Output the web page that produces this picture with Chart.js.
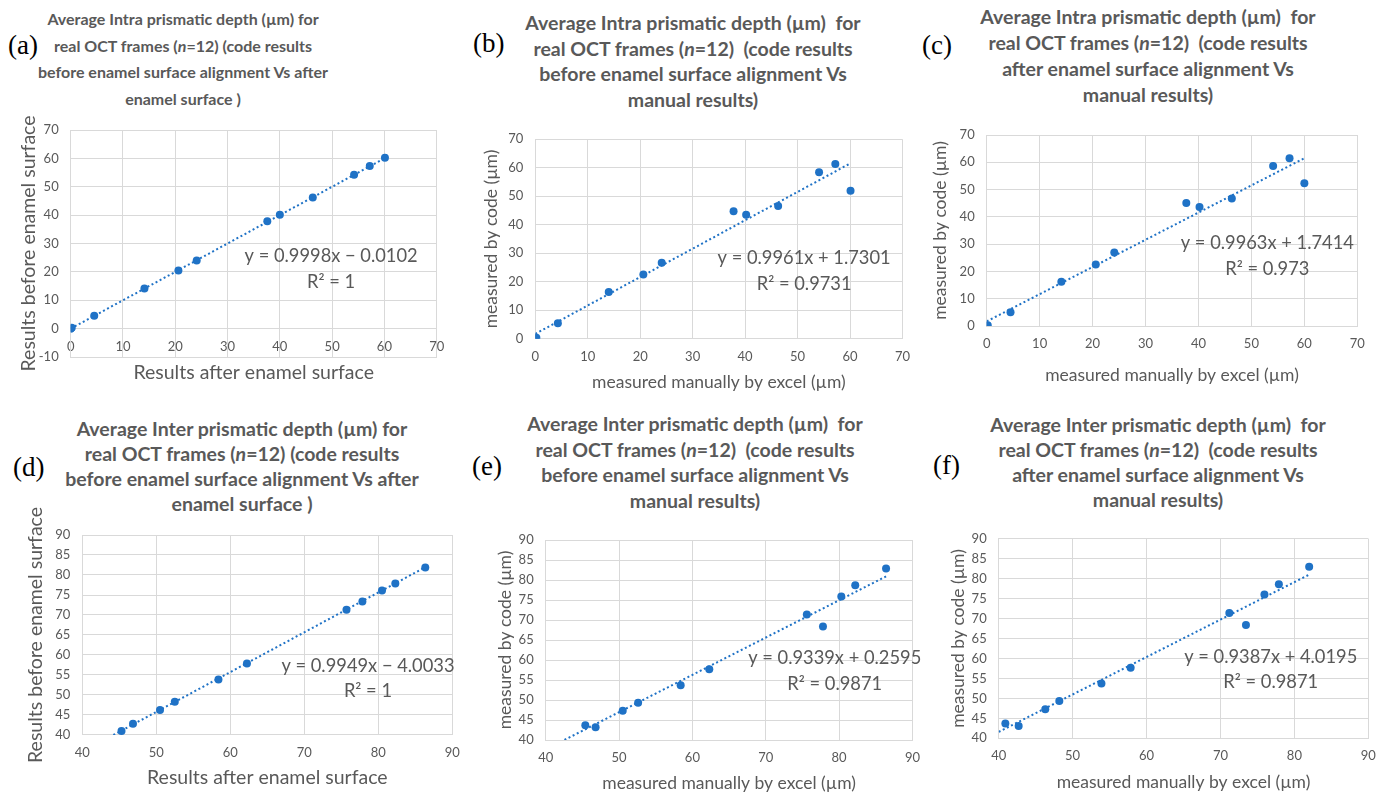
<!DOCTYPE html>
<html lang="en">
<head>
<meta charset="UTF-8">
<title>Average Intra / Inter prismatic depth</title>
<script src="https://cdn.jsdelivr.net/npm/chart.js"></script>
<style>
  html, body { margin: 0; padding: 0; background: #fff; }
  body { position: relative; width: 1386px; height: 794px; overflow: hidden; font-family: Lato, "Open Sans", sans-serif; }
  .panel { position: absolute; }
  .title { position: absolute; width: 440px; text-align: center; font-weight: bold; font-size: 19.5px; color: #595959; white-space: pre; }
  .tag { position: absolute; font-family: "Liberation Serif", "DejaVu Serif", serif; font-size: 27px; line-height: 30px; color: #000; }
</style>
</head>
<body>

<div class="tag" style="left:8px; top:30px">(a)</div>
<div class="tag" style="left:473px; top:28px">(b)</div>
<div class="tag" style="left:922px; top:30px">(c)</div>
<div class="tag" style="left:13px; top:452px">(d)</div>
<div class="tag" style="left:472px; top:451px">(e)</div>
<div class="tag" style="left:933px; top:450px">(f)</div>

<div class="title" style="left:-37px; top:6px; line-height:26.5px; font-size:16px">Average Intra prismatic depth (µm) for
real OCT frames (<i>n</i>=12) (code results
before enamel surface alignment Vs after
enamel surface )</div>
<div class="title" style="left:473px; top:10px; line-height:25.5px">Average Intra prismatic depth (µm)  for
real OCT frames (<i>n</i>=12)  (code results
before enamel surface alignment Vs
manual results)</div>
<div class="title" style="left:928px; top:4px; line-height:26px">Average Intra prismatic depth (µm)  for
real OCT frames (<i>n</i>=12)  (code results
after enamel surface alignment Vs
manual results)</div>
<div class="title" style="left:22px; top:416px; line-height:25px">Average Inter prismatic depth (µm) for
real OCT frames (<i>n</i>=12) (code results
before enamel surface alignment Vs after
enamel surface )</div>
<div class="title" style="left:475px; top:411px; line-height:25.5px">Average Inter prismatic depth (µm)  for
real OCT frames (<i>n</i>=12)  (code results
before enamel surface alignment Vs
manual results)</div>
<div class="title" style="left:938px; top:412px; line-height:25px">Average Inter prismatic depth (µm)  for
real OCT frames (<i>n</i>=12)  (code results
after enamel surface alignment Vs
manual results)</div>

<script>
    // (a) intra, before vs after alignment
    const aX = [0, 0.2, 4.5, 14.1, 20.6, 24.1, 37.6, 40.0, 46.3, 54.2, 57.2, 60.1];
    const aY = [0, 0.3, 4.5, 14.1, 20.5, 24.0, 37.8, 40.1, 46.2, 54.2, 57.3, 60.2];
    const aTrendX = [0, 60.1];
    const aTrendY = [0, 60.1];

    // (b) intra, before alignment vs manual
    const bX = [0, 0.2, 4.3, 14.0, 20.6, 24.1, 37.8, 40.2, 46.3, 54.1, 57.2, 60.1];
    const bY = [0.1, 0.3, 5.4, 16.4, 22.5, 26.7, 44.7, 43.5, 46.6, 58.4, 61.3, 51.9];
    const bTrendX = [0, 59.8];
    const bTrendY = [1.7, 61.3];

    // (c) intra, after alignment vs manual
    const cX = [0, 0.2, 4.5, 14.1, 20.6, 24.1, 37.7, 40.2, 46.3, 54.1, 57.2, 60.0];
    const cY = [0.1, 0.3, 5.0, 16.2, 22.5, 26.9, 45.1, 43.6, 46.7, 58.6, 61.5, 52.3];
    const cTrendX = [0, 60.1];
    const cTrendY = [1.7, 61.6];

    // (d) inter, before vs after alignment
    const dX = [45.3, 46.85, 50.5, 52.5, 58.4, 62.25, 75.7, 77.85, 80.5, 82.3, 86.35];
    const dY = [41.0, 42.8, 46.25, 48.3, 53.9, 57.9, 71.3, 73.4, 76.1, 77.9, 81.9];
    const dTrendX = [44.2, 86.4];
    const dTrendY = [40.0, 82.0];

    // (e) inter, before alignment vs manual
    const eX = [45.4, 46.8, 50.5, 52.6, 58.4, 62.3, 75.6, 77.8, 80.3, 82.2, 86.4];
    const eY = [43.7, 43.2, 47.3, 49.3, 53.7, 57.7, 71.4, 68.4, 75.9, 78.7, 82.9];
    const eTrendX = [42.0, 86.4];
    const eTrendY = [39.5, 80.9];

    // (f) inter, after alignment vs manual
    const fX = [40.9, 42.7, 46.3, 48.2, 53.9, 57.85, 71.2, 73.45, 75.95, 77.9, 82.0];
    const fY = [43.7, 43.1, 47.3, 49.35, 53.7, 57.7, 71.4, 68.4, 76.0, 78.6, 83.0];
    const fTrendX = [40.0, 82.0];
    const fTrendY = [41.6, 81.0];

    const BLUE = '#1f72c6';
    const GREY = '#595959';
    const GRID = '#d9d9d9';
    const TICK_FONT = 13;
    const EQ_FONT = 18.3;

    const pts = (xs, ys) => xs.map((v, i) => ({ x: v, y: ys[i] }));

    // trendline equation text, anchored in data units
    const eqLabel = {
        id: 'eqLabel',
        afterDatasetsDraw(chart, args, opts) {
            const { ctx, scales } = chart;
            const px = scales.x.getPixelForValue(opts.at[0]);
            const py = scales.y.getPixelForValue(opts.at[1]);
            ctx.save();
            ctx.font = EQ_FONT + 'px Lato';
            ctx.fillStyle = GREY;
            ctx.textAlign = 'center';
            ctx.textBaseline = 'middle';
            opts.lines.forEach((t, i) => ctx.fillText(t, px, py + i * 25.5));
            ctx.restore();
        }
    };

    const panels = [
        { x: aX, y: aY, tx: aTrendX, ty: aTrendY, xRange: [0, 70, 10], yRange: [-10, 70, 10],
          xTitle: 'Results after enamel surface', yTitle: 'Results before enamel surface', axisFont: 19.5,
          eq: ['y = 0.9998x − 0.0102', 'R² = 1'], eqAt: [49.8, 25.5],
          box: { L: 0, T: 100, W: 460, H: 295 }, plot: { l: 70.7, r: 436.7, t: 130, b: 357 },
          xTitleY: 373, yTitleX: 29, insideTicks: true },
        { x: bX, y: bY, tx: bTrendX, ty: bTrendY, xRange: [0, 70, 10], yRange: [0, 70, 10],
          xTitle: 'measured manually by excel (µm)', yTitle: 'measured by code (µm)', axisFont: 17.5,
          eq: ['y = 0.9961x + 1.7301', 'R² = 0.9731'], eqAt: [51.25, 28.2],
          box: { L: 460, T: 100, W: 460, H: 295 }, plot: { l: 535.3, r: 906, t: 139.3, b: 338.7 },
          xTitleY: 382, yTitleX: 491 },
        { x: cX, y: cY, tx: cTrendX, ty: cTrendY, xRange: [0, 70, 10], yRange: [0, 70, 10],
          xTitle: 'measured manually by excel (µm)', yTitle: 'measured by code (µm)', axisFont: 17.5,
          eq: ['y = 0.9963x + 1.7414', 'R² = 0.973'], eqAt: [53.0, 30.3],
          box: { L: 920, T: 100, W: 466, H: 295 }, plot: { l: 986.7, r: 1357.3, t: 135, b: 326 },
          xTitleY: 375, yTitleX: 940 },
        { x: dX, y: dY, tx: dTrendX, ty: dTrendY, xRange: [40, 90, 10], yRange: [40, 90, 5],
          xTitle: 'Results after enamel surface', yTitle: 'Results before enamel surface', axisFont: 19.5,
          eq: ['y = 0.9949x − 4.0033', 'R² = 1'], eqAt: [78.6, 57.3],
          box: { L: 0, T: 495, W: 470, H: 299 }, plot: { l: 82.3, r: 452.3, t: 535, b: 735 },
          xTitleY: 778, yTitleX: 36 },
        { x: eX, y: eY, tx: eTrendX, ty: eTrendY, xRange: [40, 90, 10], yRange: [40, 90, 5],
          xTitle: 'measured manually by excel (µm)', yTitle: 'measured by code (µm)', axisFont: 17.5,
          eq: ['y = 0.9339x + 0.2595', 'R² = 0.9871'], eqAt: [79.4, 60.4],
          box: { L: 460, T: 495, W: 470, H: 299 }, plot: { l: 545.7, r: 916.7, t: 540, b: 740 },
          xTitleY: 783, yTitleX: 505 },
        { x: fX, y: fY, tx: fTrendX, ty: fTrendY, xRange: [40, 90, 10], yRange: [40, 90, 5],
          xTitle: 'measured manually by excel (µm)', yTitle: 'measured by code (µm)', axisFont: 17.5,
          eq: ['y = 0.9387x + 4.0195', 'R² = 0.9871'], eqAt: [76.8, 60.4],
          box: { L: 920, T: 495, W: 466, H: 299 }, plot: { l: 998.7, r: 1368.3, t: 538.7, b: 738.3 },
          xTitleY: 782, yTitleX: 958 }
    ];

    function makeChart(p) {
        const wrap = document.createElement('div');
        wrap.className = 'panel';
        wrap.style.left = p.box.L + 'px';
        wrap.style.top = p.box.T + 'px';
        wrap.style.width = p.box.W + 'px';
        wrap.style.height = p.box.H + 'px';
        const cv = document.createElement('canvas');
        wrap.appendChild(cv);
        document.body.appendChild(wrap);

        // pin the plot area to where it sits in the figure
        const lh = p.axisFont * 1.2;
        const padLeft = p.yTitleX - p.box.L - lh / 2;
        const padBottom = p.box.T + p.box.H - p.xTitleY - lh / 2;
        const yW = p.plot.l - p.box.L - padLeft;
        const xH = p.box.T + p.box.H - padBottom - p.plot.b;

        const tickFont = { family: 'Lato', size: TICK_FONT };
        const titleFont = { family: 'Lato', size: p.axisFont };

        // panel (a): Excel puts the x labels just under the y = 0 line, inside the plot
        const xTicks = p.insideTicks
            ? { mirror: true, padding: 2 }
            : { padding: 10 };

        new Chart(cv, {
            type: 'scatter',
            data: {
                datasets: [
                    { data: pts(p.x, p.y), backgroundColor: BLUE, borderWidth: 0,
                      pointRadius: 4, pointHoverRadius: 4, order: 0 },
                    { type: 'line', data: pts(p.tx, p.ty), borderColor: BLUE, borderWidth: 2,
                      borderDash: [2, 2.6], pointRadius: 0, fill: false, order: 1 }
                ]
            },
            options: {
                responsive: true,
                maintainAspectRatio: false,
                animation: false,
                layout: {
                    padding: { left: padLeft, right: p.box.L + p.box.W - p.plot.r,
                               top: p.plot.t - p.box.T, bottom: padBottom }
                },
                plugins: {
                    legend: { display: false },
                    tooltip: { enabled: false },
                    eqLabel: { at: p.eqAt, lines: p.eq }
                },
                scales: {
                    x: {
                        type: 'linear', min: p.xRange[0], max: p.xRange[1],
                        ticks: Object.assign({ stepSize: p.xRange[2], color: GREY, font: tickFont, maxRotation: 0 }, xTicks),
                        grid: { color: GRID, drawTicks: false },
                        border: { color: GRID },
                        title: { display: true, text: p.xTitle, color: GREY, font: titleFont, padding: 0 },
                        afterFit: s => { s.height = xH; }
                    },
                    y: {
                        type: 'linear', min: p.yRange[0], max: p.yRange[1],
                        ticks: { stepSize: p.yRange[2], color: GREY, font: tickFont, padding: 12 },
                        grid: { color: GRID, drawTicks: false },
                        border: { color: GRID },
                        title: { display: true, text: p.yTitle, color: GREY, font: titleFont, padding: 0 },
                        afterFit: s => { s.width = yW; }
                    }
                }
            },
            plugins: [eqLabel]
        });
    }

    panels.forEach(makeChart);
</script>
</body>
</html>
